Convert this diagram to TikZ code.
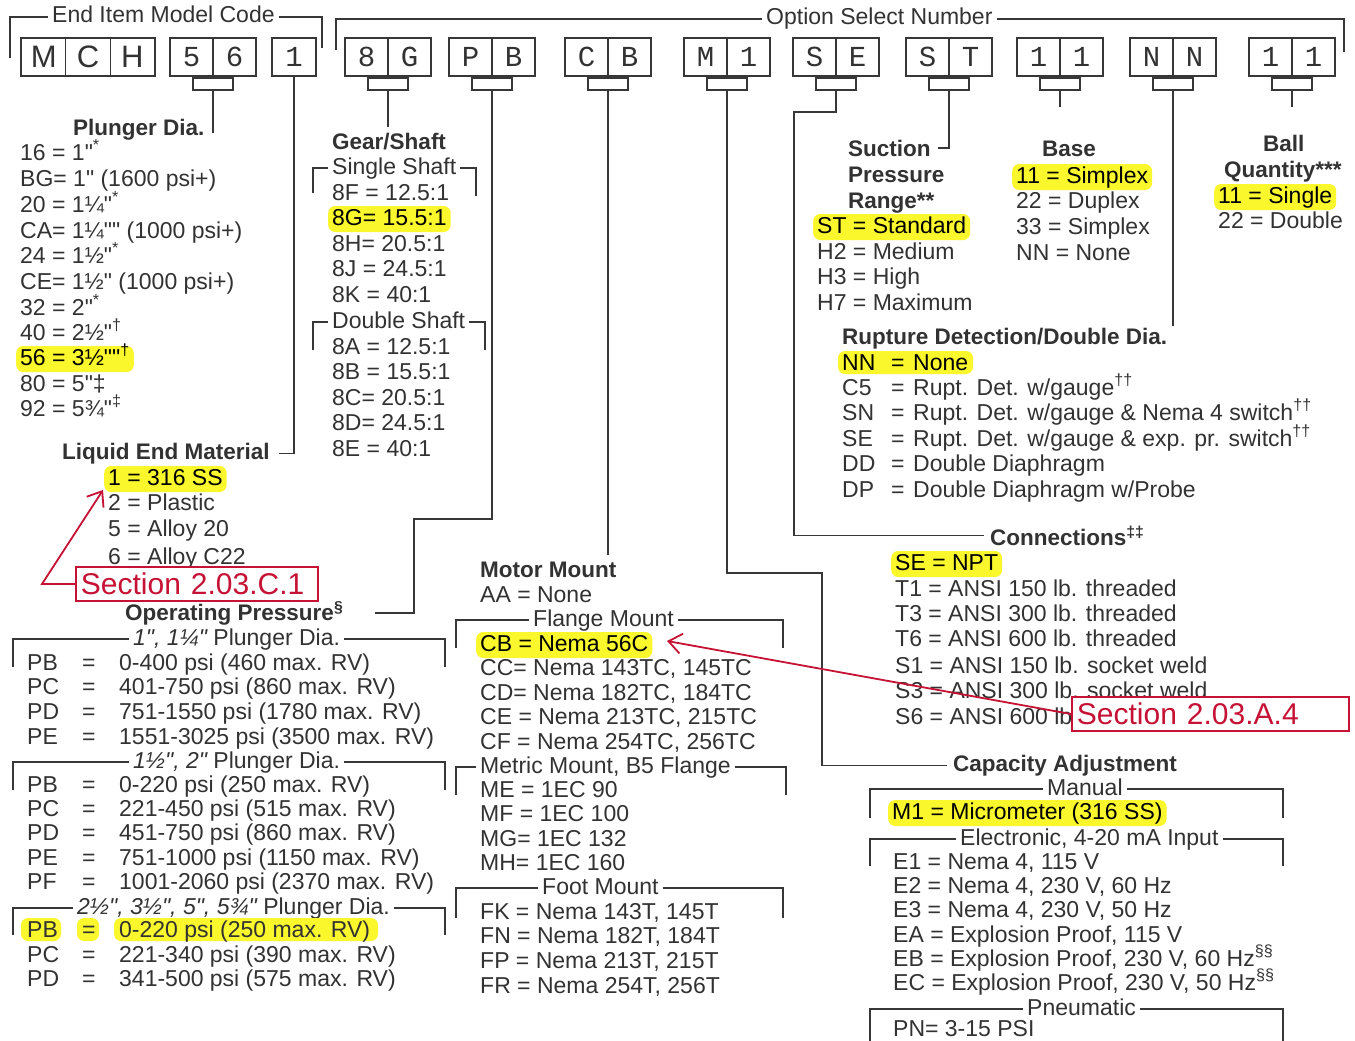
\documentclass[tikz,border=0pt]{standalone}
\usepackage{fontspec}
\setmainfont{Liberation Sans}[Ligatures=TeXOff]
\newfontfamily\monof{Liberation Mono}
\usetikzlibrary{arrows.meta}
\definecolor{tc}{RGB}{50,50,50}
\definecolor{lc}{RGB}{55,55,55}
\definecolor{hy}{RGB}{250,247,45}
\definecolor{rd}{RGB}{198,18,52}
\newcommand\fsN{\fontsize{23}{25}\selectfont}
\newcommand\fsB{\fontsize{22.5}{25}\selectfont\bfseries}
\newcommand\fsR{\fontsize{30}{32}\selectfont}
\newcommand\fsM{\fontsize{29}{30}\selectfont\monof}
\newcommand\fsS{\fontsize{31}{32}\selectfont}
\newcommand\pairbox[4]{%
  \node[cbox] (#1) at (#2,57) {};
  \draw[ln] (#1.north) -- (#1.south);
  \node[btx] (#1l) at ([xshift=-21.5pt]#1.center) {#3};
  \node[btx] (#1r) at ([xshift=21.5pt]#1.center) {#4};
  \node[tab] (#1t) at (#2,84) {};}
\newcommand\oprow[4]{%
  \node[tx] (#1a) at (27,#2) {#3};
  \node[tx] (#1b) at (82,#2) {=};
  \node[tx] (#1c) at (119,#2) {#4};}
\newcommand\rdrow[4]{%
  \node[tx] (#1a) at (842,#2) {#3};
  \node[tx] (#1b) at (891,#2) {=};
  \node[tx] (#1c) at (913,#2) {#4};}
\begin{document}
\begin{tikzpicture}[x=1pt,y=-1pt,
  ln/.style={draw=lc,line width=1.3pt},
  tx/.style={anchor=base west,inner sep=0pt,text=tc,font=\fsN,yshift=-8pt},
  hd/.style={anchor=base west,inner sep=0pt,text=tc,font=\fsB,yshift=-8pt},
  hl/.style={fill=hy,text=black,rounded corners=7pt,inner xsep=4pt,inner ysep=2pt,text height=17pt,text depth=5pt,xshift=-4pt},
  bk/.style={anchor=base west,inner xsep=4pt,inner ysep=0pt,text=tc,font=\fsN,yshift=-8pt,text height=17pt,text depth=5pt},
  cbox/.style={draw=lc,line width=1.4pt,minimum width=86pt,minimum height=38pt,inner sep=0pt},
  tab/.style={draw=lc,line width=1.2pt,minimum width=40pt,minimum height=12pt,inner sep=0pt},
  btx/.style={inner sep=0pt,text=tc,font=\fsM},
  rbox/.style={draw=rd,line width=1.8pt,fill=white,text=rd,font=\fsR,inner xsep=5pt,inner ysep=2pt,minimum height=34pt,anchor=west,align=left},
  rarr/.style={draw=rd,line width=1.8pt,-{Straight Barb[length=13pt,width=20pt,line width=1.8pt]}},
]
\useasboundingbox (0,0) rectangle (1355,1041);
\fill[white] (0,0) rectangle (1355,1041);

% ---------- top brackets ----------
\node[bk] (hEnd) at (48,15) {End Item Model Code};
\draw[ln] (10,58) |- (hEnd.west);
\draw[ln] (hEnd.east) -| (322,48);
\node[bk] (hOpt) at (762,17) {Option Select Number};
\draw[ln] (336,50) |- (hOpt.west);
\draw[ln] (hOpt.east) -| (1344,52);

% ---------- code boxes ----------
\node[cbox,minimum width=134pt] (bMCH) at (88,57) {};
\draw[ln] ([xshift=-22.3pt]bMCH.north) -- ([xshift=-22.3pt]bMCH.south);
\draw[ln] ([xshift=22.3pt]bMCH.north) -- ([xshift=22.3pt]bMCH.south);
\node[btx,font=\fsS] (lM) at (43.7,57) {M};
\node[btx,font=\fsS] (lC) at (88,57) {C};
\node[btx,font=\fsS] (lH) at (132.3,57) {H};
\pairbox{b56}{213}{5}{6}
\node[cbox,minimum width=44pt] (b1) at (294,57) {};
\node[btx] (l1) at (294,57) {1};
\pairbox{b8G}{388}{8}{G}
\pairbox{bPB}{492}{P}{B}
\pairbox{bCB}{608}{C}{B}
\pairbox{bM1}{727}{M}{1}
\pairbox{bSE}{836}{S}{E}
\pairbox{bST}{949}{S}{T}
\pairbox{bBa}{1060}{1}{1}
\pairbox{bNN}{1173}{N}{N}
\pairbox{bBQ}{1292}{1}{1}

% ---------- Plunger Dia. ----------
\node[hd] (hPl) at (73,127) {Plunger Dia.};
\node[tx] (p1) at (20,152) {16 = 1"\textsuperscript{*}};
\node[tx] (p2) at (20,178) {BG= 1" (1600 psi+)};
\node[tx] (p3) at (20,204) {20 = 1¼"\textsuperscript{*}};
\node[tx] (p4) at (20,230) {CA= 1¼"" (1000 psi+)};
\node[tx] (p5) at (20,255) {24 = 1½"\textsuperscript{*}};
\node[tx] (p6) at (20,281) {CE= 1½" (1000 psi+)};
\node[tx] (p7) at (20,307) {32 = 2"\textsuperscript{*}};
\node[tx] (p8) at (20,332) {40 = 2½"\textsuperscript{†}};
\node[tx,hl] (p9) at (20,357) {56 = 3½""\textsuperscript{†}};
\node[tx] (p10) at (20,383) {80 = 5"‡};
\node[tx] (p11) at (20,408) {92 = 5¾"\textsuperscript{‡}};
\draw[ln] (b56t.south) -- +(0,42);

% ---------- Gear/Shaft ----------
\node[hd] (hGS) at (332,141) {Gear/Shaft};
\draw[ln] (b8Gt.south) -- +(0,36);
\node[bk] (gS1) at (328,166) {Single Shaft};
\draw[ln] (313,193) |- (gS1.west);
\draw[ln] (gS1.east) -| (476,196);
\node[tx] (g1) at (332,192) {8F = 12.5:1};
\node[tx,hl] (g2) at (332,217) {8G= 15.5:1};
\node[tx] (g3) at (332,243) {8H= 20.5:1};
\node[tx] (g4) at (332,268) {8J = 24.5:1};
\node[tx] (g5) at (332,294) {8K = 40:1};
\node[bk] (gS2) at (328,320) {Double Shaft};
\draw[ln] (313,350) |- (gS2.west);
\draw[ln] (gS2.east) -| (485,350);
\node[tx] (g6) at (332,346) {8A = 12.5:1};
\node[tx] (g7) at (332,371) {8B = 15.5:1};
\node[tx] (g8) at (332,397) {8C= 20.5:1};
\node[tx] (g9) at (332,422) {8D= 24.5:1};
\node[tx] (g10) at (332,448) {8E = 40:1};

% ---------- Liquid End Material ----------
\node[hd] (hLEM) at (62,451) {Liquid End Material};
\draw[ln] (b1.south) |- ([xshift=9pt]hLEM.east);
\node[tx,hl] (l1r) at (108,477) {1 = 316 SS};
\node[tx] (l2r) at (108,502) {2 = Plastic};
\node[tx] (l3r) at (108,528) {5 = Alloy 20};
\node[tx] (l4r) at (108,556) {6 = Alloy C22};

% ---------- Operating Pressure ----------
\node[hd] (hOP) at (125,612) {Operating Pressure\textsuperscript{§}};
\draw[ln] (bPBt.south) |- (414,519) |- ([xshift=32pt]hOP.east);
\node[bk] (og1) at (129,637) {{\itshape 1", 1¼"} Plunger Dia.};
\draw[ln] (13,667) |- (og1.west);
\draw[ln] (og1.east) -| (445,667);
\oprow{q1}{662}{PB}{0-400 psi (460 max. RV)}
\oprow{q2}{686}{PC}{401-750 psi (860 max. RV)}
\oprow{q3}{711}{PD}{751-1550 psi (1780 max. RV)}
\oprow{q4}{736}{PE}{1551-3025 psi (3500 max. RV)}
\node[bk] (og2) at (129,760) {{\itshape 1½", 2"} Plunger Dia.};
\draw[ln] (13,790) |- (og2.west);
\draw[ln] (og2.east) -| (445,790);
\oprow{q5}{784}{PB}{0-220 psi (250 max. RV)}
\oprow{q6}{808}{PC}{221-450 psi (515 max. RV)}
\oprow{q7}{832}{PD}{451-750 psi (860 max. RV)}
\oprow{q8}{857}{PE}{751-1000 psi (1150 max. RV)}
\oprow{q9}{881}{PF}{1001-2060 psi (2370 max. RV)}
\node[bk] (og3) at (73,906) {{\itshape 2½", 3½", 5", 5¾"} Plunger Dia.};
\draw[ln] (13,935) |- (og3.west);
\draw[ln] (og3.east) -| (445,935);
\fill[hy,rounded corners=7pt] (21,918) rectangle (61,941);
\fill[hy,rounded corners=7pt] (77,918) rectangle (99,941);
\fill[hy,rounded corners=7pt] (114,918) rectangle (378,941);
\oprow{q10}{929}{PB}{0-220 psi (250 max. RV)}
\oprow{q11}{954}{PC}{221-340 psi (390 max. RV)}
\oprow{q12}{978}{PD}{341-500 psi (575 max. RV)}

% ---------- Motor Mount ----------
\node[hd] (hMM) at (480,569) {Motor Mount};
\draw[ln] (bCBt.south) -- +(0,464);
\node[tx] (mAA) at (480,594) {AA = None};
\node[bk] (mF) at (529,618) {Flange Mount};
\draw[ln] (456,648) |- (mF.west);
\draw[ln] (mF.east) -| (783,648);
\node[tx,hl] (m1) at (480,643) {CB = Nema 56C};
\node[tx] (m2) at (480,667) {CC= Nema 143TC, 145TC};
\node[tx] (m3) at (480,692) {CD= Nema 182TC, 184TC};
\node[tx] (m4) at (480,716) {CE = Nema 213TC, 215TC};
\node[tx] (m5) at (480,741) {CF = Nema 254TC, 256TC};
\node[bk] (mM) at (476,765) {Metric Mount, B5 Flange};
\draw[ln] (456,795) |- (mM.west);
\draw[ln] (mM.east) -| (786,795);
\node[tx] (m6) at (480,789) {ME = 1EC 90};
\node[tx] (m7) at (480,813) {MF = 1EC 100};
\node[tx] (m8) at (480,838) {MG= 1EC 132};
\node[tx] (m9) at (480,862) {MH= 1EC 160};
\node[bk] (mFt) at (538,886) {Foot Mount};
\draw[ln] (456,918) |- (mFt.west);
\draw[ln] (mFt.east) -| (783,918);
\node[tx] (m10) at (480,911) {FK = Nema 143T, 145T};
\node[tx] (m11) at (480,935) {FN = Nema 182T, 184T};
\node[tx] (m12) at (480,960) {FP = Nema 213T, 215T};
\node[tx] (m13) at (480,985) {FR = Nema 254T, 256T};

% ---------- Suction Pressure Range ----------
\node[hd] (hSuc) at (848,148) {Suction};
\node[hd] (hSuc2) at (848,174) {Pressure};
\node[hd] (hSuc3) at (848,200) {Range**};
\draw[ln] (bSTt.south) |- ([xshift=7pt]hSuc.east);
\node[tx,hl] (s1) at (817,225) {ST = Standard};
\node[tx] (s2) at (817,251) {H2 = Medium};
\node[tx] (s3) at (817,276) {H3 = High};
\node[tx] (s4) at (817,302) {H7 = Maximum};

% ---------- Base ----------
\node[hd] (hBase) at (1042,148) {Base};
\draw[ln] (bBat.south) -- +(0,16);
\node[tx,hl] (ba1) at (1016,175) {11 = Simplex};
\node[tx] (ba2) at (1016,200) {22 = Duplex};
\node[tx] (ba3) at (1016,226) {33 = Simplex};
\node[tx] (ba4) at (1016,252) {NN = None};

% ---------- Ball Quantity ----------
\node[hd] (hBall) at (1263,143) {Ball};
\node[hd] (hBQ) at (1224,169) {Quantity***};
\draw[ln] (bBQt.south) -- +(0,16);
\node[tx,hl] (bq1) at (1218,195) {11 = Single};
\node[tx] (bq2) at (1218,220) {22 = Double};

% ---------- Rupture Detection ----------
\node[hd] (hRD) at (842,336) {Rupture Detection/Double Dia.};
\draw[ln] (bNNt.south) -- +(0,235);
\fill[hy,rounded corners=7pt] (838,351) rectangle (973,374);
\node[tx,text=black] (rda) at (842,362) {NN};
\node[tx,text=black] (rdb) at (891,362) {=};
\node[tx,text=black] (rdc) at (913,362) {None};
\rdrow{rd2}{387}{C5}{Rupt. Det. w/gauge\textsuperscript{††}}
\rdrow{rd3}{412}{SN}{Rupt. Det. w/gauge \& Nema 4 switch\textsuperscript{††}}
\rdrow{rd4}{438}{SE}{Rupt. Det. w/gauge \& exp. pr. switch\textsuperscript{††}}
\rdrow{rd5}{463}{DD}{Double Diaphragm}
\rdrow{rd6}{489}{DP}{Double Diaphragm w/Probe}

% ---------- Connections ----------
\node[hd] (hConn) at (990,537) {Connections\textsuperscript{‡‡}};
\draw[ln] (bSEt.south) |- (794,112) |- ([xshift=-6pt]hConn.west);
\node[tx,hl] (c1) at (895,562) {SE = NPT};
\node[tx] (c2) at (895,588) {T1 = ANSI 150 lb. threaded};
\node[tx] (c3) at (895,613) {T3 = ANSI 300 lb. threaded};
\node[tx] (c4) at (895,638) {T6 = ANSI 600 lb. threaded};
\node[tx] (c5) at (895,665) {S1 = ANSI 150 lb. socket weld};
\node[tx] (c6) at (895,690) {S3 = ANSI 300 lb. socket weld};
\node[tx] (c7) at (895,716) {S6 = ANSI 600 lb};

% ---------- Capacity Adjustment ----------
\node[hd] (hCap) at (953,763) {Capacity Adjustment};
\draw[ln] (bM1t.south) |- (822,573) |- ([xshift=-6pt]hCap.west);
\node[bk] (cMan) at (1043,787) {Manual};
\draw[ln] (870,818) |- (cMan.west);
\draw[ln] (cMan.east) -| (1283,818);
\node[tx,hl] (ca1) at (892,811) {M1 = Micrometer (316 SS)};
\node[bk] (cEl) at (956,837) {Electronic, 4-20 mA Input};
\draw[ln] (870,866) |- (cEl.west);
\draw[ln] (cEl.east) -| (1283,866);
\node[tx] (ca2) at (893,861) {E1 = Nema 4, 115 V};
\node[tx] (ca3) at (893,885) {E2 = Nema 4, 230 V, 60 Hz};
\node[tx] (ca4) at (893,909) {E3 = Nema 4, 230 V, 50 Hz};
\node[tx] (ca5) at (893,934) {EA = Explosion Proof, 115 V};
\node[tx] (ca6) at (893,958) {EB = Explosion Proof, 230 V, 60 Hz\textsuperscript{§§}};
\node[tx] (ca7) at (893,982) {EC = Explosion Proof, 230 V, 50 Hz\textsuperscript{§§}};
\node[bk] (cPn) at (1023,1007) {Pneumatic};
\draw[ln] (870,1041) |- (cPn.west);
\draw[ln] (cPn.east) -| (1283,1041);
\node[tx] (ca8) at (893,1028) {PN= 3-15 PSI};

% ---------- red annotations ----------
\node[rbox,text width=232pt] (r1) at (75,584) {Section 2.03.C.1};
\draw[rarr] (r1.west) -- (42,584) -- (103,490);
\node[rbox,text width=267pt] (r2) at (1071,714) {Section 2.03.A.4};
\draw[rarr] (r2.west) -- (667,641);
\end{tikzpicture}
\end{document}
